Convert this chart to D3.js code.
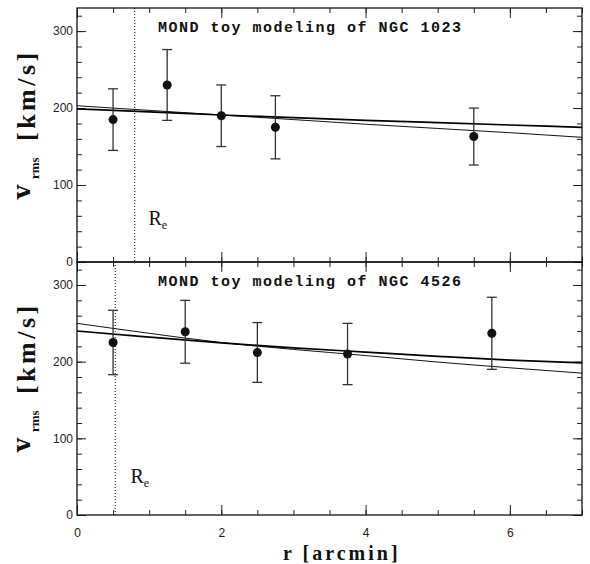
<!DOCTYPE html>
<html>
<head>
<meta charset="utf-8">
<script src="https://cdn.jsdelivr.net/npm/d3@7"></script>
<style>
  html, body { margin: 0; padding: 0; background: #fff; }
  svg { display: block; }
  .tick text { font-family: "Liberation Sans", Arial, sans-serif; font-size: 12px; fill: #222; }
</style>
</head>
<body>
<svg id="chart" width="590" height="564"></svg>
<script>
// ── Data ─────────────────────────────────────────────────
const xTicksMajor = [0, 2, 4, 6];
const yTicksMajor = [0, 100, 200, 300];

// NGC 1023 (top panel)
const ngc1023Title = 'MOND toy modeling of NGC 1023';
const ngc1023R     = [0.5, 1.25, 2, 2.75, 5.5];
const ngc1023V     = [185, 230, 190, 175, 163];
const ngc1023Err   = [40, 46, 40, 41, 37];
const ngc1023Re    = 0.8;
const modelR       = [0, 1, 2, 3, 4, 5, 6, 7];
const ngc1023Thick = [199, 195, 191, 187.5, 184, 181, 178, 175];
const ngc1023Thin  = [203, 197, 191, 185, 179, 173.5, 168, 162];

// NGC 4526 (bottom panel)
const ngc4526Title = 'MOND toy modeling of NGC 4526';
const ngc4526R     = [0.5, 1.5, 2.5, 3.75, 5.75];
const ngc4526V     = [225, 239, 212, 210, 237];
const ngc4526Err   = [42, 41, 39, 40, 47];
const ngc4526Re    = 0.53;
const ngc4526Thick = [240, 232, 224.5, 218, 212.5, 207, 202, 198.5];
const ngc4526Thin  = [250, 237, 225, 216, 208, 199.5, 192, 185];

// ── Layout ───────────────────────────────────────────────
const L = 77, R = 582;
const panels = [
  { top: 8,   bottom: 262, title: ngc1023Title, r: ngc1023R, v: ngc1023V, err: ngc1023Err,
    re: ngc1023Re, thick: ngc1023Thick, thin: ngc1023Thin, reLabel: [0.99, 48], xLabels: false },
  { top: 262, bottom: 515, title: ngc4526Title, r: ngc4526R, v: ngc4526V, err: ngc4526Err,
    re: ngc4526Re, thick: ngc4526Thick, thin: ngc4526Thin, reLabel: [0.74, 42], xLabels: true }
];

const svg = d3.select('#chart');
const x = d3.scaleLinear().domain([0, 7]).range([L, R]);
const xMinor = d3.range(0, 7.01, 0.5);

panels.forEach(p => {
  const y = d3.scaleLinear().domain([0, 330]).range([p.bottom, p.top]);
  const yMinor = d3.range(0, 331, 20);
  const g = svg.append('g');

  // minor ticks (all four sides)
  const minorAxes = [
    [d3.axisLeft(y).tickValues(yMinor).tickSize(-5).tickFormat(''), `translate(${L},0)`],
    [d3.axisRight(y).tickValues(yMinor).tickSize(-5).tickFormat(''), `translate(${R},0)`],
    [d3.axisBottom(x).tickValues(xMinor).tickSize(-5).tickFormat(''), `translate(0,${p.bottom})`],
    [d3.axisTop(x).tickValues(xMinor).tickSize(-5).tickFormat(''), `translate(0,${p.top})`]
  ];
  minorAxes.forEach(([ax, tr]) => {
    g.append('g').attr('transform', tr).call(ax)
      .call(s => s.select('.domain').remove())
      .selectAll('line').attr('stroke', '#222').attr('stroke-width', 1);
  });

  // major ticks
  g.append('g').attr('transform', `translate(${L},0)`)
    .call(d3.axisLeft(y).tickValues(yTicksMajor).tickSize(-9).tickPadding(4))
    .call(s => s.select('.domain').remove())
    .call(s => s.selectAll('line').attr('stroke', '#222'));
  g.append('g').attr('transform', `translate(${R},0)`)
    .call(d3.axisRight(y).tickValues(yTicksMajor).tickSize(-9).tickFormat(''))
    .call(s => s.select('.domain').remove())
    .call(s => s.selectAll('line').attr('stroke', '#222'));
  g.append('g').attr('transform', `translate(0,${p.bottom})`)
    .call(d3.axisBottom(x).tickValues(xTicksMajor).tickSize(-10).tickPadding(13)
      .tickFormat(p.xLabels ? d3.format('d') : ''))
    .call(s => s.select('.domain').remove())
    .call(s => s.selectAll('line').attr('stroke', '#222'));
  g.append('g').attr('transform', `translate(0,${p.top})`)
    .call(d3.axisTop(x).tickValues(xTicksMajor).tickSize(-10).tickFormat(''))
    .call(s => s.select('.domain').remove())
    .call(s => s.selectAll('line').attr('stroke', '#222'));

  // frame
  g.append('rect')
    .attr('x', L).attr('y', p.top)
    .attr('width', R - L).attr('height', p.bottom - p.top)
    .attr('fill', 'none').attr('stroke', '#111').attr('stroke-width', 1.3);

  // R_e dotted line
  g.append('line')
    .attr('x1', x(p.re)).attr('x2', x(p.re))
    .attr('y1', y(330)).attr('y2', y(0))
    .attr('stroke', '#111').attr('stroke-width', 1)
    .attr('stroke-dasharray', '1,2');

  const re = g.append('text')
    .attr('x', x(p.reLabel[0])).attr('y', y(p.reLabel[1]))
    .attr('font-family', '"Liberation Serif", "Times New Roman", serif')
    .attr('font-size', 20).attr('fill', '#111');
  re.append('tspan').text('R');
  re.append('tspan').attr('font-size', 12).attr('dy', 4).text('e');

  // model curves
  const line = d3.line().x((d, i) => x(modelR[i])).y(d => y(d)).curve(d3.curveMonotoneX);
  g.append('path').datum(p.thin).attr('d', line)
    .attr('fill', 'none').attr('stroke', '#111').attr('stroke-width', 1);
  g.append('path').datum(p.thick).attr('d', line)
    .attr('fill', 'none').attr('stroke', '#000').attr('stroke-width', 1.7);

  // error bars + points
  p.r.forEach((r, i) => {
    const cx = x(r), v = p.v[i], e = p.err[i];
    g.append('line').attr('x1', cx).attr('x2', cx)
      .attr('y1', y(v - e)).attr('y2', y(v + e))
      .attr('stroke', '#333').attr('stroke-width', 1.3);
    [v - e, v + e].forEach(ev => {
      g.append('line').attr('x1', cx - 5).attr('x2', cx + 5)
        .attr('y1', y(ev)).attr('y2', y(ev))
        .attr('stroke', '#333').attr('stroke-width', 1.3);
    });
    g.append('circle').attr('cx', cx).attr('cy', y(v)).attr('r', 4.5).attr('fill', '#111');
  });

  // title
  g.append('text')
    .attr('x', 158).attr('y', p.top + 24)
    .attr('font-family', '"Liberation Mono", "DejaVu Sans Mono", monospace')
    .attr('font-weight', 'bold').attr('font-size', 15)
    .attr('letter-spacing', 1.5).attr('fill', '#111')
    .text(p.title);

  // y label (rotated; x runs along the text, y across it)
  const yl = g.append('text')
    .attr('transform', `translate(35,${p.bottom - 63}) rotate(-90)`)
    .attr('font-family', '"Liberation Serif", "Times New Roman", serif')
    .attr('font-weight', 'bold').attr('fill', '#111');
  yl.append('tspan').attr('x', 0).attr('y', -5)
    .attr('font-family', '"DejaVu Serif", serif').attr('font-size', 24).text('v');
  yl.append('tspan').attr('x', 20).attr('y', 4).attr('font-size', 13).text('rms');
  yl.append('tspan').attr('x', 58).attr('y', 0)
    .attr('font-size', 26).attr('letter-spacing', 3.5).text('[km/s]');
});

// x label
svg.append('text')
  .attr('x', 283).attr('y', 560)
  .attr('font-family', '"Liberation Serif", "Times New Roman", serif')
  .attr('font-weight', 'bold').attr('font-size', 20)
  .attr('letter-spacing', 3).attr('fill', '#111')
  .text('r [arcmin]');
</script>
</body>
</html>
